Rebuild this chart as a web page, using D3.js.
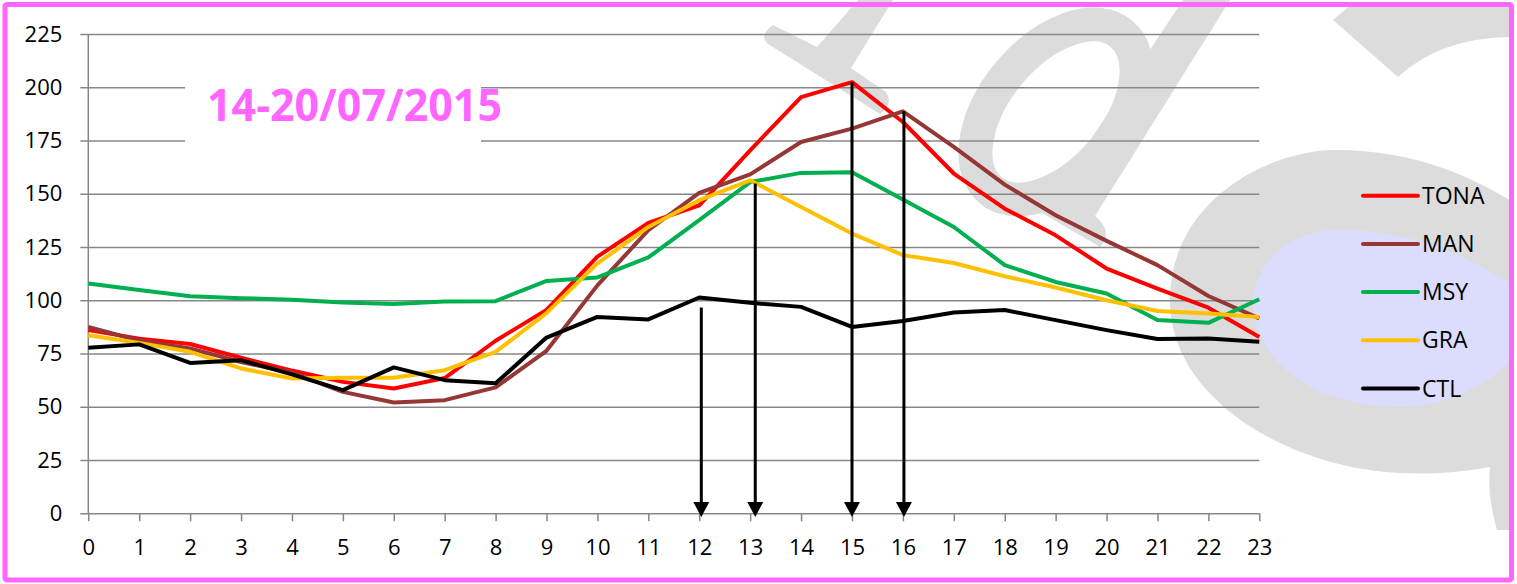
<!DOCTYPE html>
<html>
<head>
<meta charset="utf-8">
<script src="https://cdn.jsdelivr.net/npm/d3@7"></script>
<style>
  html, body { margin: 0; padding: 0; background: #fff; }
  svg { display: block; font-family: "Open Sans", sans-serif; }
</style>
</head>
<body>
<svg id="chart" width="1517" height="584"></svg>
<script>
// hours 0..23
const hours = d3.range(0, 24);
const yTicks = [0, 25, 50, 75, 100, 125, 150, 175, 200, 225];

const tona = [86, 82, 79.5, 73, 67, 61.7, 58.6, 63.5, 81, 95.5, 120.5, 136.3, 144.6, 170.4, 195.4, 202.4, 183.7, 159.5, 143, 130.5, 114.9, 105.5, 96.5, 82.8];
const man  = [87.5, 81, 77.4, 71, 66, 57, 52, 53.1, 59.1, 76.3, 107, 132.9, 150.4, 159.1, 174.3, 180.6, 188.7, 172, 154.3, 139.9, 127.9, 116.5, 102, 91.5];
const msy  = [107.9, 104.8, 101.9, 101, 100.3, 99, 98.2, 99.4, 99.6, 109.1, 110.7, 120.1, 137.6, 155.5, 159.8, 160.1, 147.3, 134.4, 116.5, 108.6, 103.2, 90.7, 89.4, 100.5];
const gra  = [83.6, 80, 75.8, 68, 63.3, 63.6, 63.6, 67.2, 75.8, 94, 117.3, 134.4, 147, 156.3, 143.8, 131.3, 121.2, 117.5, 111.3, 106, 100, 95, 93.8, 92.2];
const ctl  = [77.7, 79.3, 70.6, 71.9, 65.2, 57.8, 68.5, 62.5, 61, 82.5, 92.2, 91, 101.3, 98.8, 96.9, 87.5, 90.3, 94.3, 95.4, 90.7, 86, 81.8, 82.1, 80.5];

const seriesNames = ['TONA', 'MAN', 'MSY', 'GRA', 'CTL'];
const seriesColors = ['#ff0000', '#953735', '#00b050', '#ffc000', '#000000'];
const seriesValues = [tona, man, msy, gra, ctl];

// annotation arrows: hour where drawn, value where shaft starts
const arrowHours = [12.04, 13.1, 15.0, 16.02];
const arrowFrom = [96.6, 154.8, 202.4, 188.7];

const title = '14-20/07/2015';

const svg = d3.select('#chart');
const pink = '#ff66ff';
const wmGray = '#dcdcdc';

const x = d3.scaleLinear().domain([0, 23]).range([88.3, 1259.3]);
const y = d3.scaleLinear().domain([0, 225]).range([513.3, 34]);

// watermark shapes behind the plot
const wm = svg.append('g').attr('class', 'watermark');
wm.append('path')
  .attr('d', 'M773,25 L817,47 L858,0 L893,0 L851,68 L886,92 Q894,104 880,114 L768,44 Q758,36 773,25 Z')
  .attr('fill', wmGray);
wm.append('ellipse')
  .attr('cx', 1056).attr('cy', 112).attr('rx', 102).attr('ry', 61)
  .attr('transform', 'rotate(-50,1056,112)')
  .attr('fill', 'none').attr('stroke', wmGray).attr('stroke-width', 34);
wm.append('path')
  .attr('d', 'M1183,0 L1230,0 L1095,216 Q1114,232 1100,247 L1042,213 Z')
  .attr('fill', wmGray);
wm.append('path')
  .attr('d', 'M1333,20 L1352,4 L1510,4 L1510,37 Q1440,38 1398,77 Z')
  .attr('fill', wmGray);
wm.append('path')
  .attr('d', 'M1170,300 C1170,200 1270,150 1335,150 C1420,150 1475,180 1510,200 L1510,530 L1497,530 C1490,505 1488,485 1490,467 C1450,474 1425,474 1400,473 C1290,468 1170,400 1170,300 Z')
  .attr('fill', wmGray);
wm.append('path')
  .attr('d', 'M1253,300 C1258,255 1295,230 1340,230 C1420,230 1475,262 1510,283 L1510,362 C1480,390 1440,407 1400,407 C1320,407 1253,365 1253,300 Z')
  .attr('fill', '#dcdcff');

// gridlines + y labels
const yAxis = d3.axisLeft(y)
  .tickValues(yTicks)
  .tickSizeInner(-(x(23) - 80.3))
  .tickSizeOuter(0)
  .tickPadding(18);
const gy = svg.append('g')
  .attr('transform', 'translate(80.3,0)')
  .call(yAxis);
gy.select('.domain').remove();
gy.selectAll('.tick line').attr('stroke', '#878787').attr('stroke-width', 1.5);
gy.selectAll('.tick text')
  .attr('font-family', '"Open Sans", sans-serif')
  .attr('font-size', 22).attr('fill', '#000');

// y axis line
svg.append('line')
  .attr('x1', x(0)).attr('x2', x(0))
  .attr('y1', y(225)).attr('y2', y(0))
  .attr('stroke', '#878787').attr('stroke-width', 1.5);

// x axis ticks + labels
const xAxis = d3.axisBottom(x)
  .tickValues(hours)
  .tickFormat(d3.format('d'))
  .tickSizeInner(8)
  .tickSizeOuter(0)
  .tickPadding(18);
const gx = svg.append('g')
  .attr('transform', `translate(0,${y(0)})`)
  .call(xAxis);
gx.select('.domain').remove();
gx.selectAll('.tick line').attr('stroke', '#878787').attr('stroke-width', 1.5);
gx.selectAll('.tick text')
  .attr('font-family', '"Open Sans", sans-serif')
  .attr('font-size', 22).attr('fill', '#000');

// title with white box over the gridlines
svg.append('rect')
  .attr('x', 185).attr('y', 62).attr('width', 296).attr('height', 100)
  .attr('fill', '#fff');
svg.append('text')
  .attr('x', 207).attr('y', 121)
  .attr('font-family', '"Open Sans", sans-serif')
  .attr('font-weight', 'bold')
  .attr('font-size', 44)
  .attr('fill', pink)
  .attr('textLength', 295)
  .attr('lengthAdjust', 'spacingAndGlyphs')
  .text(title);

// series
const line = d3.line()
  .x((d, i) => x(hours[i]))
  .y(d => y(d));
svg.append('g')
  .selectAll('path')
  .data(seriesValues)
  .join('path')
    .attr('d', line)
    .attr('fill', 'none')
    .attr('stroke', (d, i) => seriesColors[i])
    .attr('stroke-width', 4)
    .attr('stroke-linejoin', 'round');

// arrows
const tipY = y(-1.7);
const ag = svg.append('g');
arrowHours.forEach((h, i) => {
  ag.append('line')
    .attr('x1', x(h)).attr('x2', x(h))
    .attr('y1', y(arrowFrom[i])).attr('y2', tipY - 12)
    .attr('stroke', '#000').attr('stroke-width', 3);
  ag.append('path')
    .attr('d', `M${x(h) - 8},${tipY - 15} L${x(h) + 8},${tipY - 15} L${x(h)},${tipY} Z`)
    .attr('fill', '#000');
});

// legend
const legend = svg.append('g')
  .selectAll('g')
  .data(seriesNames)
  .join('g')
    .attr('transform', (d, i) => `translate(1363,${195.7 + i * 48.2})`);
legend.append('line')
  .attr('x1', 0).attr('x2', 55)
  .attr('stroke', (d, i) => seriesColors[i])
  .attr('stroke-width', 4)
  .attr('stroke-linecap', 'round');
legend.append('text')
  .attr('x', 59).attr('dy', '0.35em')
  .attr('font-size', 23)
  .attr('fill', '#000')
  .text(d => d);

// pink frame
svg.append('rect')
  .attr('x', 5).attr('y', 4.5).attr('width', 1506.5).attr('height', 575.5)
  .attr('fill', 'none').attr('stroke', pink).attr('stroke-width', 5)
  .attr('rx', 2);
</script>
</body>
</html>
